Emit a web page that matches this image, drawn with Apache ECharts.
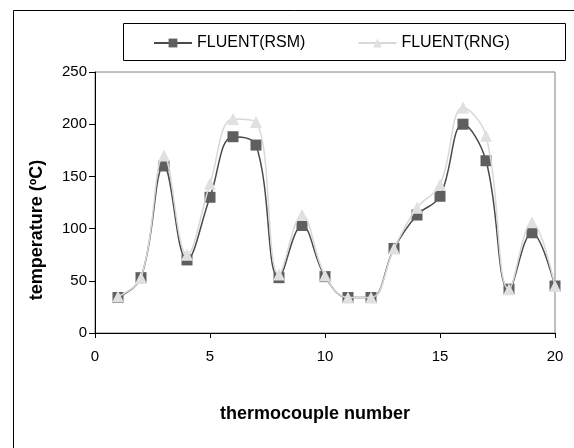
<!DOCTYPE html>
<html>
<head>
<meta charset="utf-8">
<script src="https://cdn.jsdelivr.net/npm/echarts@6/dist/echarts.min.js"></script>
<style>
html,body{margin:0;padding:0;background:#fff;}
#c{width:574px;height:448px;}
</style>
</head>
<body>
<div id="c"></div>
<script>
const thermocouple = [1,2,3,4,5,6,7,8,9,10,11,12,13,14,15,16,17,18,19,20];
const rsm = [34,53,160,70,130,188,180,53,103,54,34,34,81,113,131,200,165,42,96,45];
const rng = [35,53,170,75,143,205,202,56,113,55,34,34,81,120,142,216,189,42,106,45];
const seriesNames = ['FLUENT(RSM)','FLUENT(RNG)'];
const yTicks = [0,50,100,150,200,250];
const xTicks = [0,5,10,15,20];

const FONT = '"Liberation Sans", Arial, sans-serif';
const chart = echarts.init(document.getElementById('c'), null, {renderer:'canvas'});
chart.setOption({
  backgroundColor:'#fff',
  animation:false,
  grid:{left:95,right:19,top:72,bottom:115,show:true,borderColor:'#808080',borderWidth:1,backgroundColor:'transparent'},
  legend:{
    left:148, top:30, itemWidth:38, itemHeight:11, itemGap:52,
    textStyle:{fontFamily:FONT,fontSize:16,color:'#000'},
    data:seriesNames
  },
  xAxis:{
    type:'value', min:xTicks[0], max:xTicks[xTicks.length-1], interval:5,
    axisLine:{lineStyle:{color:'#000',width:1}},
    axisTick:{show:true,length:5,lineStyle:{color:'#000'}},
    splitLine:{show:false},
    axisLabel:{fontFamily:FONT,fontSize:15,color:'#000',margin:16}
  },
  yAxis:{
    type:'value', min:yTicks[0], max:yTicks[yTicks.length-1], interval:50,
    axisLine:{show:true,lineStyle:{color:'#000',width:1}},
    axisTick:{show:true,length:6,lineStyle:{color:'#000'}},
    splitLine:{show:false},
    axisLabel:{fontFamily:FONT,fontSize:15,color:'#000',margin:8}
  },
  graphic:[
    {type:'rect',left:11,top:8,shape:{width:562,height:445},style:{fill:'none',stroke:'#000',lineWidth:1},z:-1},
    {type:'rect',left:121,top:21,shape:{width:442,height:37},style:{fill:'none',stroke:'#000',lineWidth:1}},
    {type:'text',x:37,y:230,rotation:Math.PI/2,style:{text:'temperature (ºC)',font:'bold 18px '+FONT,fill:'#000',textAlign:'center',textVerticalAlign:'middle'}},
    {type:'text',x:315,y:414,style:{text:'thermocouple number',font:'bold 18px '+FONT,fill:'#000',textAlign:'center',textVerticalAlign:'middle'}}
  ],
  series:[
    {name:seriesNames[0],type:'line',smooth:0.4,data:thermocouple.map((x,i)=>[x,rsm[i]]),
     symbol:'rect',symbolSize:11,itemStyle:{color:'#5f5f5f'},lineStyle:{color:'#4a4a4a',width:1.5},z:2},
    {name:seriesNames[1],type:'line',smooth:0.4,data:thermocouple.map((x,i)=>[x,rng[i]]),
     symbol:'triangle',symbolSize:12,itemStyle:{color:'#e0e0e0'},lineStyle:{color:'#d8d8d8',width:1.5},z:3}
  ]
});
</script>
</body>
</html>
